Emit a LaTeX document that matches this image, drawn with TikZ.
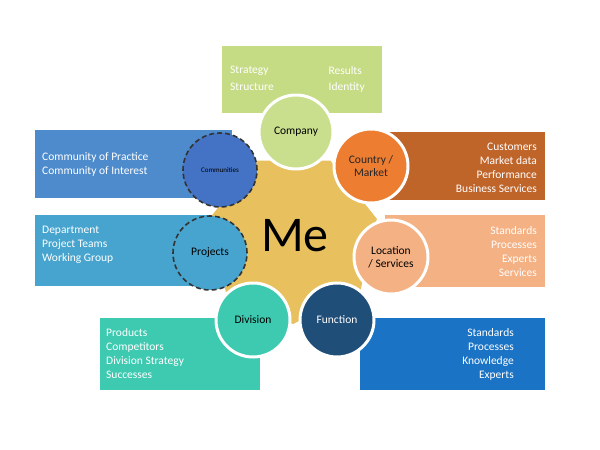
\documentclass[tikz,border=0pt]{standalone}
\usepackage{fontspec}
\setmainfont{Carlito}
\usetikzlibrary{shapes.geometric}
\definecolor{cgreen}{HTML}{C5DB84}
\definecolor{cgreenb}{HTML}{C9DF8E}
\definecolor{cblue}{HTML}{4E8BCC}
\definecolor{ccomm}{HTML}{4472C4}
\definecolor{cproj}{HTML}{47A4CE}
\definecolor{cdiv}{HTML}{3DCAB0}
\definecolor{cfunb}{HTML}{1A73C4}
\definecolor{cfun}{HTML}{1F4E79}
\definecolor{cloc}{HTML}{F4B183}
\definecolor{ccoub}{HTML}{C0652A}
\definecolor{ccou}{HTML}{ED7D31}
\definecolor{cme}{HTML}{E8C15E}
\begin{document}
\begin{tikzpicture}[x=1pt,y=-1pt,
  box/.style={draw=none,anchor=north west,text=white,font=\fontsize{11.5}{14}\selectfont,inner sep=0pt},
  ring/.style={circle,draw=white,line width=3pt,minimum size=74pt,inner sep=0pt,align=center,font=\fontsize{11.5}{13}\selectfont,drop shadow/.try},
  dashring/.style={circle,draw=black!80,dashed,line width=1.6pt,dash pattern=on 5pt off 3pt,minimum size=74pt,inner sep=0pt,align=center}]
\useasboundingbox (0,0) rectangle (600,450);
% boxes
\fill[cgreen] (222,46) rectangle (382,113);
\fill[cblue] (35,130) rectangle (232,198);
\fill[cproj] (35,215) rectangle (232,286);
\fill[cdiv] (100,318) rectangle (260,390);
\fill[cfunb] (360,318) rectangle (545,390);
\fill[cloc] (385,215) rectangle (545,287);
\fill[ccoub] (385,132) rectangle (545,200);
% box texts
\node[box,anchor=west] (t1) at (230,71) {Strategy};
\node[box,anchor=west] (t2) at (230,87) {Structure};
\node[box,anchor=east] (t3) at (362,71) {Results};
\node[box,anchor=east] (t4) at (365,87) {Identity};
\node[box,anchor=west,align=left] (t5) at (42,164) {Community of Practice\\Community of Interest};
\node[box,anchor=west,align=left] (t6) at (42,245) {Department\\Project Teams\\Working Group};
\node[box,anchor=west,align=left] (t7) at (106,354) {Products\\Competitors\\Division Strategy\\Successes};
\node[box,anchor=east,align=right] (t8) at (514,354) {Standards\\Processes\\Knowledge\\Experts};
\node[box,anchor=east,align=right] (t9) at (537,252) {Standards\\Processes\\Experts\\Services};
\node[box,anchor=east,align=right] (t10) at (537,168) {Customers\\Market data\\Performance\\Business Services};
% center
\node[regular polygon,regular polygon sides=7,fill=cme,minimum size=172pt,shape border rotate=180/7] (me) at (293,238) {};
\node[font=\fontsize{50}{50}\selectfont] (metext) at (295,236) {Me};
% circles
\node[ring,fill=cgreenb] (company) at (296,132) {Company};
\node[ring,fill=ccou,text=black!85] (country) at (371,166) {Country /\\Market};
\node[ring,fill=cloc] (location) at (391,257) {Location\\/ Services};
\node[ring,fill=cfun,text=white] (function) at (337,320) {Function};
\node[ring,fill=cdiv] (division) at (253,320) {Division};
\node[ring,fill=cproj,draw=none] (projects) at (210,253) {Projects};
\node[dashring] (projd) at (210,253) {};
\node[ring,fill=ccomm,draw=none,font=\fontsize{7}{8}\selectfont] (comm) at (220,170) {Communities};
\node[dashring] (commd) at (220,170) {};
\end{tikzpicture}
\end{document}
